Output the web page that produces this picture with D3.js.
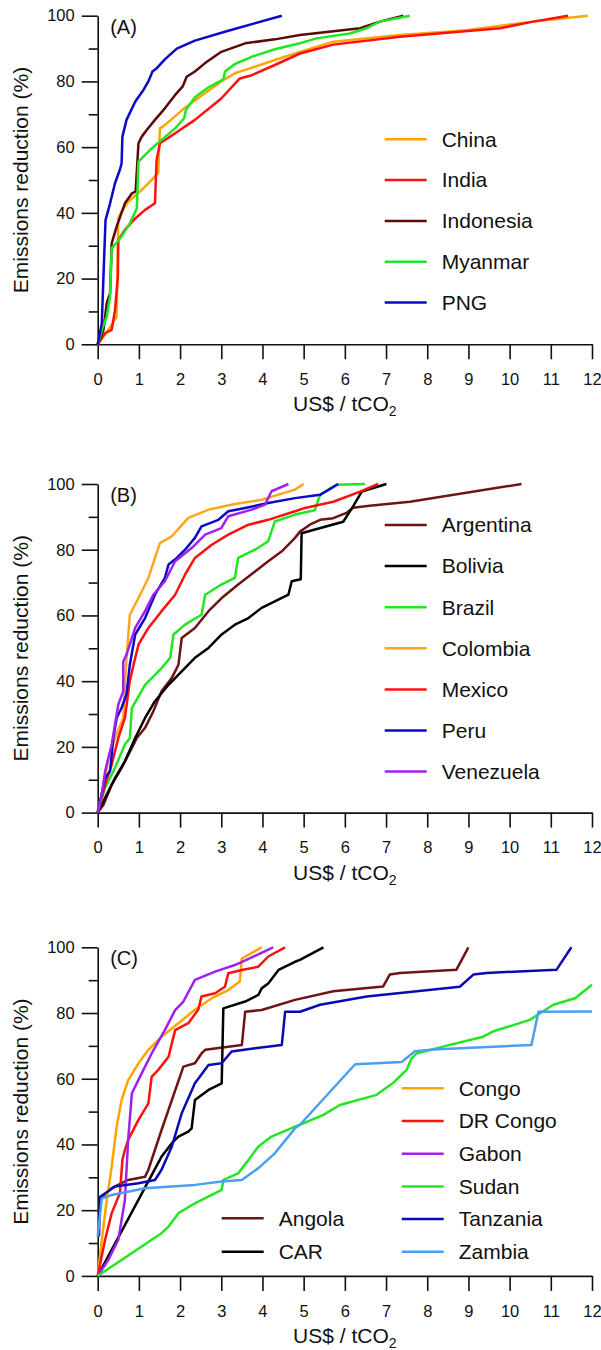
<!DOCTYPE html>
<html>
<head>
<meta charset="utf-8">
<script src="https://cdn.jsdelivr.net/npm/d3@7"></script>
<style>
  body { margin: 0; background: #fff; }
  svg { display: block; font-family: "Liberation Sans", Arial, Helvetica, sans-serif; }
</style>
</head>
<body>
<div id="chart"></div>
<script>
// ---- data: [US$/tCO2, emissions reduction %] ----
// panel A
const china = [[0,0],[0.26,4.4],[0.46,8.4],[0.5,38.3],[0.58,40.4],[0.74,43.4],[0.99,46.1],[1.23,49],[1.47,52.2],[1.51,65.7],[1.63,66.7],[2.1,71.8],[2.6,76.4],[3.0,80],[3.33,82.5],[3.82,84.5],[4.3,86.5],[4.91,89],[5.72,92.1],[7.34,94.1],[8.96,95.6],[10.57,98.2],[11.9,100]];
const india = [[0,0],[0.18,3.4],[0.34,4.4],[0.42,10.4],[0.49,20.6],[0.5,31.7],[0.66,34.8],[0.91,38.3],[1.15,40.9],[1.39,42.9],[1.43,56.1],[1.51,61.2],[1.88,64.2],[2.36,68.3],[3.0,74.8],[3.45,80.9],[3.74,81.9],[4.3,85],[4.91,88.5],[5.72,91.2],[7.34,93.6],[9.77,96.2],[10.57,98.2],[11.42,100]];
const indonesia = [[0,0],[0.14,4.4],[0.22,12.5],[0.3,15.5],[0.34,30.7],[0.46,35.8],[0.66,42.9],[0.83,45.9],[0.92,46.5],[0.99,61.2],[1.07,63.2],[1.19,65.2],[1.39,68.3],[1.63,71.8],[1.88,75.9],[2.06,78.4],[2.16,81.4],[2.36,83],[2.6,85.5],[3.0,89],[3.58,91.6],[4.3,92.8],[4.91,94.1],[6.37,96.2],[6.85,98.2],[7.42,100]];
const myanmar = [[0,0],[0.1,4.4],[0.22,8.4],[0.3,14.5],[0.34,29.2],[0.58,32.8],[0.78,36.8],[0.95,41.4],[0.99,55.6],[1.31,59.6],[1.55,62.2],[1.88,65.7],[2.1,68.8],[2.14,71.3],[2.36,75.2],[2.69,78.2],[3.05,80.6],[3.09,83],[3.33,85.3],[3.74,87.5],[4.3,89.8],[4.91,91.6],[5.31,93.1],[6.12,94.6],[6.53,96.2],[6.85,98.2],[7.58,100]];
const png = [[0,0],[0.1,6.4],[0.14,20.6],[0.19,37.8],[0.3,42.9],[0.42,49],[0.54,53.2],[0.58,55],[0.6,63.2],[0.7,68.3],[0.91,73.8],[1.11,77.4],[1.23,80],[1.33,83],[1.43,84],[1.63,86.7],[1.92,90],[2.36,92.4],[3.17,95.4],[4.47,100]];

// panel B
const argentina = [[0,0],[0.14,2.4],[0.34,8.5],[0.58,13.6],[0.83,19.7],[0.95,22.7],[1.15,25.8],[1.35,30.8],[1.55,36.9],[1.8,41],[1.96,45],[2.04,53.1],[2.36,56.2],[2.69,61.3],[3.01,65.3],[3.41,69.4],[3.82,73.4],[4.14,76.5],[4.47,79.5],[4.79,83.6],[4.91,85.5],[5.15,87.6],[5.4,89.1],[5.72,89.6],[6.04,91.2],[6.2,92.8],[6.6,93.4],[7.58,94.6],[10.29,100]];
const bolivia = [[0,0],[0.18,4.5],[0.42,10.5],[0.66,15.6],[0.91,22.7],[1.15,28.8],[1.39,33.9],[1.72,38.9],[2.04,43],[2.36,47.1],[2.69,50.1],[3.01,54.2],[3.33,57.2],[3.66,59.2],[3.98,62.3],[4.3,64.3],[4.63,66.3],[4.71,70.4],[4.93,71],[4.95,85],[5.23,86],[5.96,88.5],[6.2,93.2],[6.41,97.7],[7.01,100]];
const brazil = [[0,0],[0.18,7.5],[0.42,13.6],[0.66,20.7],[0.78,22.7],[0.83,31.8],[1.15,38.9],[1.55,44],[1.76,47.1],[1.84,54.2],[2.12,57.2],[2.52,60.2],[2.61,66.3],[3.0,69.4],[3.33,71.4],[3.41,77.5],[3.82,80],[4.14,82.6],[4.3,88.6],[4.79,90.7],[5.27,92],[5.4,96.8],[5.8,99.8],[6.49,100]];
const colombia = [[0,0],[0.18,10.5],[0.26,16.6],[0.42,22.7],[0.62,28.8],[0.66,38.9],[0.7,47],[0.78,60.2],[0.99,65.3],[1.23,71.4],[1.51,82],[1.8,84.1],[2.2,89.7],[2.69,92.2],[3.33,93.9],[3.98,95.2],[4.79,98.3],[5.0,100]];
const mexico = [[0,0],[0.18,8.5],[0.34,14.6],[0.5,22.7],[0.66,28.8],[0.78,40],[0.87,45],[0.99,51.1],[1.23,56.2],[1.55,61.3],[1.88,66.3],[2.12,72.4],[2.36,77.5],[2.77,81.5],[3.17,84.6],[3.66,87.6],[4.14,89.1],[4.79,91.7],[5.0,92.6],[5.72,94.6],[6.37,97.7],[6.81,100]];
const peru = [[0,0],[0.18,10.5],[0.3,12.6],[0.38,22.7],[0.46,28.8],[0.58,31.9],[0.7,36],[0.78,45],[0.91,54.2],[1.15,59.2],[1.39,66.3],[1.63,71.4],[1.72,75.5],[1.92,77.5],[2.12,80],[2.36,83.6],[2.52,87.1],[2.93,89.1],[3.17,91.7],[3.58,92.7],[4.14,94.2],[4.79,95.7],[5.4,96.7],[5.84,100]];
const venezuela = [[0,0],[0.1,5.5],[0.18,12.6],[0.34,20.7],[0.42,26.8],[0.5,32.9],[0.62,36.9],[0.62,46],[0.7,48.1],[0.91,56.2],[1.15,61.3],[1.35,66.3],[1.63,70.4],[1.88,76.5],[2.28,80.5],[2.61,84.6],[3.0,86.6],[3.17,90.2],[3.74,92.2],[4.06,93.7],[4.22,97.8],[4.63,100]];

// panel C
const angola = [[0.06,23.5],[0.34,26.7],[0.74,29.2],[1.15,30.2],[1.23,32.3],[1.55,44.4],[2.08,63.7],[2.36,64.7],[2.52,67.7],[2.61,68.8],[3.5,70.3],[3.58,80.4],[3.98,80.9],[4.79,84],[5.72,86.6],[6.93,88.1],[7.09,91.7],[7.34,92.2],[8.71,93.2],[9.0,100]];
const car = [[0,0],[1.55,36.3],[1.8,40.4],[1.96,42.4],[2.2,43.9],[2.28,44.9],[2.36,53.5],[2.69,56.6],[3.01,58.6],[3.05,81.4],[3.58,83.5],[3.9,85.5],[3.98,87.5],[4.14,89],[4.39,93.1],[4.79,95.6],[4.91,96.2],[5.48,100]];
const congo = [[0,0],[0.1,11],[0.22,23.1],[0.34,33.3],[0.46,45.4],[0.58,53.5],[0.74,59.6],[0.99,64.7],[1.23,68.8],[1.55,72.8],[1.96,76.9],[2.36,81],[2.77,84.5],[3.17,87],[3.45,89.6],[3.5,96.6],[3.98,100]];
const drCongo = [[0,0],[0.18,11],[0.34,19.1],[0.54,25.2],[0.6,35.3],[0.66,38.3],[0.74,41.4],[0.99,47.5],[1.23,52.5],[1.31,60.6],[1.47,62.7],[1.72,66.7],[1.88,74.8],[2.2,76.9],[2.44,81],[2.52,85],[2.85,86],[3.09,88],[3.17,92.1],[3.5,93.1],[3.9,94.1],[4.14,97.2],[4.55,100]];
const gabon = [[0,0],[0.26,4.9],[0.5,11],[0.66,23.1],[0.74,41.4],[0.83,55.6],[1.07,61.7],[1.31,67.7],[1.63,74.8],[1.88,80.9],[2.08,83.5],[2.36,90.1],[2.85,92.6],[3.33,94.6],[3.82,97.4],[4.26,100]];
const sudan = [[0,0],[1.55,13],[1.72,15],[1.96,19.1],[2.36,22.1],[3.01,26.2],[3.05,29.2],[3.41,31.2],[3.66,35.3],[3.9,39.4],[4.22,42.4],[4.79,45.4],[4.91,46],[5.48,49],[5.88,52],[6.77,55.1],[7.17,58.7],[7.5,62.7],[7.62,66.2],[7.74,67.7],[8.55,70.3],[9.36,72.8],[9.6,74.4],[10.49,77.9],[11.06,82.5],[11.59,84.5],[12,88.6]];
const tanzania = [[0.03,12],[0.06,24.1],[0.42,27.2],[0.99,28.2],[1.39,29.2],[1.55,32.3],[1.8,39.4],[2.04,49.5],[2.36,58.6],[2.69,64.2],[3.01,64.7],[3.25,68.3],[3.82,69.3],[4.47,70.3],[4.55,80.4],[4.91,80.4],[5.4,82.5],[6.53,85],[8.79,88],[9.12,91.7],[9.44,92.2],[11.14,93.2],[11.5,100]];
const zambia = [[0,12],[0.1,23.6],[0.34,24.6],[1.15,26.7],[2.36,27.7],[3.01,28.7],[3.5,29.2],[3.9,32.8],[4.3,37.3],[4.79,44.9],[4.91,46],[6.25,64.4],[7.38,65.1],[7.7,68.4],[8.15,68.9],[10.53,70.3],[10.7,80.4],[12,80.5]];

const xTicks = d3.range(0, 13);
const yMajor = [0, 20, 40, 60, 80, 100];
const yMinor = [10, 30, 50, 70, 90];

const panels = [
    {
        label: "(A)", top: 15.7,
        series: [
            {name: "China", data: china, color: "#ffa500"},
            {name: "India", data: india, color: "#ff1010"},
            {name: "Indonesia", data: indonesia, color: "#5a0a0a"},
            {name: "Myanmar", data: myanmar, color: "#22e622"},
            {name: "PNG", data: png, color: "#0a0ac8"}
        ],
        legend: [{x: 287, y: 123.6, step: 40.8, items: [0, 1, 2, 3, 4]}]
    },
    {
        label: "(B)", top: 484,
        series: [
            {name: "Argentina", data: argentina, color: "#6e1414"},
            {name: "Bolivia", data: bolivia, color: "#000000"},
            {name: "Brazil", data: brazil, color: "#22e622"},
            {name: "Colombia", data: colombia, color: "#ffa520"},
            {name: "Mexico", data: mexico, color: "#ff1010"},
            {name: "Peru", data: peru, color: "#0a0ac8"},
            {name: "Venezuela", data: venezuela, color: "#a020f0"}
        ],
        legend: [{x: 287, y: 41, step: 41.1, items: [0, 1, 2, 3, 4, 5, 6]}]
    },
    {
        label: "(C)", top: 947.3,
        series: [
            {name: "Angola", data: angola, color: "#6e1414"},
            {name: "CAR", data: car, color: "#000000"},
            {name: "Congo", data: congo, color: "#ffa500"},
            {name: "DR Congo", data: drCongo, color: "#ff1010"},
            {name: "Gabon", data: gabon, color: "#a020f0"},
            {name: "Sudan", data: sudan, color: "#22e622"},
            {name: "Tanzania", data: tanzania, color: "#0a0ab4"},
            {name: "Zambia", data: zambia, color: "#4c9ef0"}
        ],
        legend: [
            {x: 124, y: 271, step: 33.4, items: [0, 1]},
            {x: 304, y: 141, step: 32.7, items: [2, 3, 4, 5, 6, 7]}
        ]
    }
];

const width = 601, height = 1350;
const left = 97.7, plotW = 494.3, plotH = 328.6;

const svg = d3.select("#chart").append("svg")
    .attr("width", width)
    .attr("height", height);

const x = d3.scaleLinear().domain([0, 12]).range([0, plotW]);
const y = d3.scaleLinear().domain([0, 100]).range([plotH, 0]);

const line = d3.line()
    .x(d => x(d[0]))
    .y(d => y(d[1]));

panels.forEach(p => {
    const g = svg.append("g")
        .attr("transform", "translate(" + left + "," + p.top + ")");

    // x axis
    g.append("g")
        .attr("transform", "translate(0," + plotH + ")")
        .call(d3.axisBottom(x).tickValues(xTicks).tickSize(15).tickSizeOuter(0).tickPadding(14));
    // y axis, major + minor ticks
    g.append("g")
        .call(d3.axisLeft(y).tickValues(yMajor).tickSize(16).tickSizeOuter(0).tickPadding(7));
    g.append("g")
        .call(d3.axisLeft(y).tickValues(yMinor).tickSize(9).tickSizeOuter(0).tickFormat(""))
        .select(".domain").remove();

    g.selectAll(".domain, .tick line")
        .attr("stroke", "#111")
        .attr("stroke-width", 1.6);
    g.selectAll(".tick text")
        .attr("font-size", 16.5)
        .attr("fill", "#111")
        .attr("font-family", "Liberation Sans, Arial, sans-serif");

    // titles
    g.append("text")
        .attr("transform", "translate(-70," + (plotH / 2) + ") rotate(-90)")
        .attr("text-anchor", "middle")
        .attr("font-size", 21)
        .attr("fill", "#111")
        .text("Emissions reduction (%)");

    const xt = g.append("text")
        .attr("x", x(6))
        .attr("y", plotH + 67)
        .attr("text-anchor", "middle")
        .attr("font-size", 21)
        .attr("fill", "#111");
    xt.append("tspan").text("US$ / tCO");
    xt.append("tspan").attr("font-size", 14).attr("dy", 5).text("2");

    g.append("text")
        .attr("x", 12.5)
        .attr("y", 18)
        .attr("font-size", 20)
        .attr("fill", "#111")
        .text(p.label);

    // lines
    g.selectAll("path.series")
        .data(p.series)
        .enter()
        .append("path")
        .attr("class", "series")
        .attr("d", d => line(d.data))
        .attr("fill", "none")
        .attr("stroke", d => d.color)
        .attr("stroke-width", 2.5)
        .attr("stroke-linejoin", "round");

    // legend
    p.legend.forEach(col => {
        const items = col.items.map(i => p.series[i]);
        const lg = g.append("g")
            .attr("transform", "translate(" + col.x + "," + col.y + ")");
        const row = lg.selectAll("g")
            .data(items)
            .enter()
            .append("g")
            .attr("transform", (d, i) => "translate(0," + (i * col.step) + ")");
        row.append("line")
            .attr("x1", 0).attr("x2", 42)
            .attr("stroke", d => d.color)
            .attr("stroke-width", 2.5);
        row.append("text")
            .attr("x", 57)
            .attr("dy", "0.35em")
            .attr("font-size", 21)
            .attr("fill", "#111")
            .text(d => d.name);
    });
});
</script>
</body>
</html>
